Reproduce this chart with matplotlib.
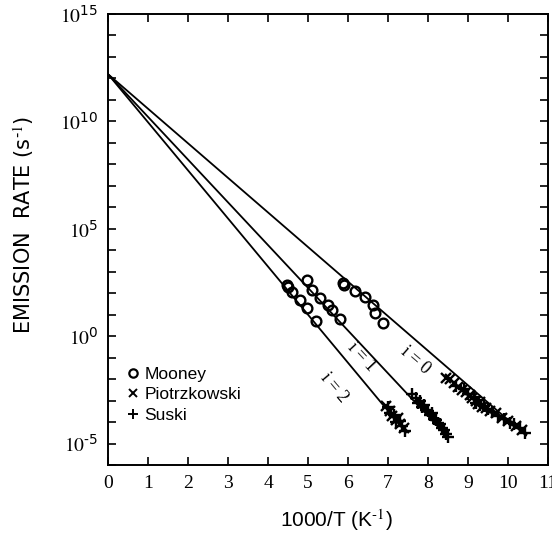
import matplotlib
matplotlib.use("Agg")
import matplotlib.pyplot as plt
import numpy as np
from matplotlib.lines import Line2D

# ---- data (log10 of emission rate) ----
prefactor_log = 12.2
slopes = [1.61, 1.99, 2.24]          # decades per unit 1000/T for i=0,1,2
line_ends = [10.45, 8.5, 7.45]
line_labels = ["i = 0", "i = 1", "i = 2"]

mooney_x = [5.875, 5.9, 6.175, 6.425, 6.625, 6.675, 6.875,
            4.975, 5.1, 5.3, 5.5, 5.6, 5.8,
            4.475, 4.5, 4.6, 4.8, 4.975, 5.2]
mooney_log = [2.48, 2.40, 2.10, 1.83, 1.45, 1.08, 0.61,
              2.62, 2.15, 1.78, 1.45, 1.22, 0.80,
              2.38, 2.30, 2.06, 1.69, 1.31, 0.71]

piot_x = [8.45, 8.55, 8.65, 8.75, 8.85, 8.95, 9.05, 9.1, 9.2, 9.25, 9.3, 9.35,
          9.45, 9.55, 9.7, 9.85, 10.0, 10.2, 10.35,
          6.95, 7.05, 7.1, 7.2, 7.25, 7.3, 7.4]
piot_log = [-1.95, -2.0, -2.2, -2.35, -2.5, -2.6, -2.75, -2.9, -3.0, -3.15, -3.05, -3.3,
            -3.35, -3.5, -3.6, -3.8, -3.95, -4.2, -4.35,
            -3.25, -3.5, -3.7, -3.9, -3.8, -4.1, -4.3]

suski_x = [8.7, 8.9, 9.0, 9.15, 9.2, 9.3, 9.4, 9.5, 9.6, 9.75, 9.9, 10.05, 10.15, 10.3, 10.43,
           7.6, 7.7, 7.75, 7.8, 7.85, 7.9, 7.95, 8.0, 8.05, 8.1, 8.15, 8.2, 8.25, 8.3, 8.35,
           8.4, 8.45, 8.5,
           7.0, 7.05, 7.15, 7.2, 7.3, 7.35, 7.43]
suski_log = [-2.3, -2.45, -2.7, -2.85, -3.1, -3.2, -3.25, -3.4, -3.55, -3.7, -3.85, -4.05, -4.1, -4.3, -4.5,
             -2.7, -2.9, -3.1, -3.0, -3.3, -3.2, -3.45, -3.5, -3.65, -3.6, -3.85, -3.9, -4.05, -4.1, -4.3,
             -4.35, -4.55, -4.7,
             -3.3, -3.6, -3.65, -4.0, -3.95, -4.2, -4.4]

label_pos_x = [7.675, 6.35, 5.65]
label_pos_log = [-1.15, -0.97, -2.41]
label_rot = [-41, -47, -50]

xticks = list(range(0, 12))
ytick_exps = [-5, 0, 5, 10, 15]

# ---- figure ----
plt.rcParams['mathtext.fontset'] = 'stix'
fig = plt.figure(figsize=(5.52, 5.35), dpi=100)
ax = fig.add_axes([108/552, 70/535, 440/552, 451/535])

for s, xe in zip(slopes, line_ends):
    xs = np.array([0.0, xe])
    ax.plot(xs, 10 ** (prefactor_log - s * xs), color='black', lw=1.3)

ms = 7
ax.plot(mooney_x, 10 ** np.array(mooney_log), 'o', mfc='none', mec='black', mew=1.7, ms=ms, ls='none')
ax.plot(piot_x, 10 ** np.array(piot_log), 'x', color='black', mew=1.7, ms=ms, ls='none')
ax.plot(suski_x, 10 ** np.array(suski_log), '+', color='black', mew=1.7, ms=ms + 1, ls='none')

for lx, ly, lt, r in zip(label_pos_x, label_pos_log, line_labels, label_rot):
    ax.text(lx, 10 ** ly, lt, rotation=r, ha='center', va='center',
            fontsize=13, family='Liberation Serif')

ax.set_yscale('log')
ax.set_xlim(0, 11)
ax.set_ylim(1e-6, 1e15)

ax.set_xticks(xticks)
ax.set_xticklabels([str(t) for t in xticks], family='Liberation Serif', fontsize=14)
ax.set_yticks([10.0 ** e for e in range(-6, 16)])
ax.set_yticklabels([(r'$10^{\mathregular{%d}}$' % e).replace('-', '\u2010') if e in ytick_exps else ''
                    for e in range(-6, 16)], fontsize=14)
ax.yaxis.set_minor_locator(matplotlib.ticker.NullLocator())
ax.tick_params(axis='both', which='major', direction='in', length=6, width=1.2,
               top=True, right=True, pad=7)

for sp in ax.spines.values():
    sp.set_linewidth(1.4)

ax.set_xlabel('1000/T (K$^{\\mathregular{\u2010}1}$)', fontsize=15, family='Liberation Sans')
ax.xaxis.set_label_coords(0.52, -0.093)
ax.set_ylabel('EMISSION  RATE (s$^{\\mathregular{\u2010}1}$)', fontsize=15, family='DejaVu Sans')
ax.yaxis.set_label_coords(-0.163, 0.532)

handles = [Line2D([], [], marker='o', mfc='none', mec='black', mew=1.6, ms=6, ls='none'),
           Line2D([], [], marker='x', color='black', mew=1.4, ms=6, ls='none'),
           Line2D([], [], marker='+', color='black', mew=1.4, ms=7, ls='none')]
leg = ax.legend(handles, ['Mooney', 'Piotrzkowski', 'Suski'], loc='upper left',
                bbox_to_anchor=(0.02, 0.237), frameon=False, handlelength=0.9,
                handletextpad=0.2, labelspacing=0.3, borderpad=0,
                prop={'family': 'Liberation Sans', 'size': 12.5})

fig.savefig('out.png', dpi=100)
